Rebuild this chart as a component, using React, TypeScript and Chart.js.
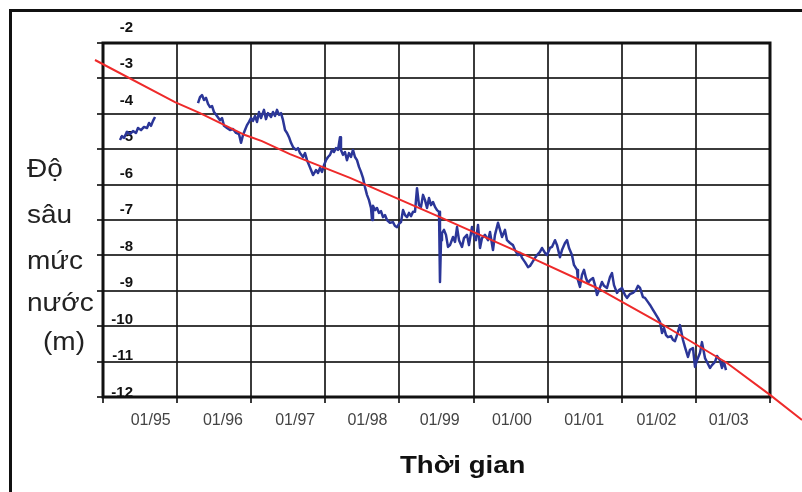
import React, { useEffect, useRef } from 'react';
import { Chart, registerables } from 'chart.js';

Chart.register(...registerables);

const FONT = "'Liberation Sans', Arial, Helvetica, sans-serif";

// ---- text ----
const xTickLabels = ['01/95', '01/96', '01/97', '01/98', '01/99', '01/00', '01/01', '01/02', '01/03'];
const yTickValues = [-2, -3, -4, -5, -6, -7, -8, -9, -10, -11, -12];
const yTickLabels = ['-2', '-3', '-4', '-5', '-6', '-7', '-8', '-9', '-10', '-11', '-12'];
const yTitleLines = ['Độ', 'sâu', 'mức', 'nước', '(m)'];
const xTitle = 'Thời gian';

// ---- observed water-table depth (decimal year, metres) ----
const blueDates = [
  1995.229, 1995.256, 1995.283, 1995.324, 1995.364, 1995.405, 1995.445, 1995.472, 1995.513, 1995.553,
  1995.594, 1995.621, 1995.648, 1995.675, 1995.702,
  1996.0,
  1996.282, 1996.309, 1996.336, 1996.363, 1996.390, 1996.417, 1996.444, 1996.471, 1996.498, 1996.538,
  1996.579, 1996.606, 1996.633, 1996.673, 1996.714, 1996.754, 1996.795, 1996.835, 1996.862, 1996.889,
  1996.916, 1996.943, 1996.970, 1996.997, 1997.024, 1997.051, 1997.078, 1997.105, 1997.132, 1997.172,
  1997.199, 1997.226, 1997.267, 1997.294, 1997.321, 1997.348, 1997.375, 1997.402, 1997.429, 1997.456,
  1997.483, 1997.510, 1997.537, 1997.564, 1997.604, 1997.631, 1997.658, 1997.699, 1997.726, 1997.753,
  1997.780, 1997.807, 1997.834, 1997.874, 1997.901, 1997.928, 1997.955, 1997.982, 1998.009, 1998.036,
  1998.063, 1998.090, 1998.117, 1998.144, 1998.171, 1998.198, 1998.211, 1998.238, 1998.265, 1998.292,
  1998.319, 1998.346, 1998.373, 1998.400, 1998.427, 1998.454, 1998.481, 1998.508, 1998.535, 1998.562,
  1998.589, 1998.616, 1998.630, 1998.643, 1998.670, 1998.697, 1998.724, 1998.751, 1998.778, 1998.805,
  1998.832, 1998.872, 1998.913, 1998.940, 1998.967, 1998.994, 1999.021, 1999.048, 1999.075, 1999.102,
  1999.129, 1999.156, 1999.183, 1999.210, 1999.237, 1999.264, 1999.291, 1999.318, 1999.345, 1999.372,
  1999.399, 1999.426, 1999.453, 1999.480, 1999.507, 1999.534, 1999.547, 1999.561, 1999.574, 1999.601,
  1999.628, 1999.655, 1999.682, 1999.723, 1999.750, 1999.777, 1999.804, 1999.844, 1999.871, 1999.911,
  1999.938, 1999.979, 2000.006, 2000.033, 2000.060, 2000.087, 2000.114, 2000.154, 2000.195, 2000.222,
  2000.262, 2000.289, 2000.330, 2000.357, 2000.384, 2000.424, 2000.451, 2000.492, 2000.532, 2000.559,
  2000.600, 2000.627, 2000.654, 2000.694, 2000.735, 2000.761, 2000.788, 2000.829, 2000.856, 2000.896,
  2000.923, 2000.964, 2000.991, 2001.031, 2001.058, 2001.099, 2001.126, 2001.166, 2001.193, 2001.234,
  2001.261, 2001.288, 2001.328, 2001.355, 2001.396, 2001.409, 2001.436, 2001.463, 2001.490, 2001.517,
  2001.544, 2001.571, 2001.612, 2001.639, 2001.666, 2001.693, 2001.733, 2001.760, 2001.800, 2001.841,
  2001.868, 2001.895, 2001.935, 2001.962, 2002.003, 2002.043, 2002.070, 2002.111, 2002.151, 2002.192,
  2002.219, 2002.246, 2002.286, 2002.313, 2002.354, 2002.381, 2002.421, 2002.448, 2002.489, 2002.516,
  2002.543, 2002.570, 2002.597, 2002.623, 2002.664, 2002.691, 2002.718, 2002.745, 2002.785, 2002.812,
  2002.826, 2002.853, 2002.893, 2002.920, 2002.961, 2002.988, 2003.015, 2003.055, 2003.082, 2003.123,
  2003.150, 2003.190, 2003.217, 2003.258, 2003.285, 2003.325, 2003.352, 2003.379, 2003.406,
];

const blueDepths: (number | null)[] = [
  -4.74, -4.63, -4.68, -4.51, -4.57, -4.49, -4.54, -4.40, -4.46, -4.37,
  -4.40, -4.26, -4.34, -4.20, -4.09,
  null,
  -3.70, -3.53, -3.47, -3.61, -3.55, -3.72, -3.81, -3.78, -3.95, -4.06,
  -4.18, -4.12, -4.34, -4.40, -4.46, -4.43, -4.54, -4.57, -4.82, -4.60,
  -4.46, -4.32, -4.23, -4.12, -4.20, -4.06, -4.23, -3.95, -4.12, -3.89,
  -4.15, -3.98, -4.09, -3.95, -4.06, -3.89, -4.03, -3.98, -4.18, -4.46,
  -4.54, -4.66, -4.82, -4.94, -5.02, -4.97, -5.11, -5.22, -5.11, -5.31,
  -5.45, -5.59, -5.73, -5.59, -5.67, -5.53, -5.64, -5.45, -5.31, -5.22,
  -5.16, -5.02, -5.08, -4.97, -5.02, -4.66, -5.02, -5.16, -5.08, -5.31,
  -5.11, -5.22, -5.02, -5.22, -5.31, -5.50, -5.64, -5.81, -6.07, -6.29,
  -6.44, -6.66, -7.00, -6.60, -6.72, -6.66, -6.80, -6.75, -6.92, -6.86,
  -7.00, -7.08, -7.06, -7.17, -7.20, -7.11, -7.06, -6.72, -6.86, -6.92,
  -6.80, -6.89, -6.77, -6.77, -6.10, -6.58, -6.63, -6.29, -6.44, -6.66,
  -6.38, -6.58, -6.49, -6.63, -6.72, -6.77, -8.75, -7.57, -7.37, -7.28,
  -7.42, -7.76, -7.71, -7.48, -7.62, -7.20, -7.57, -7.76, -7.51, -7.42,
  -7.71, -7.20, -7.45, -7.57, -7.14, -7.79, -7.51, -7.42, -7.57, -7.34,
  -7.85, -7.42, -7.08, -7.28, -7.48, -7.28, -7.57, -7.65, -7.71, -7.85,
  -7.99, -7.93, -8.07, -8.19, -8.33, -8.30, -8.21, -8.07, -7.99, -7.90,
  -7.79, -7.93, -7.99, -7.79, -7.76, -7.57, -7.71, -8.05, -7.85, -7.65,
  -7.57, -7.79, -7.99, -8.27, -8.41, -8.70, -8.89, -8.55, -8.41, -8.64,
  -8.78, -8.70, -8.64, -8.84, -9.12, -8.98, -8.75, -8.86, -8.92, -8.61,
  -8.50, -8.84, -9.06, -8.98, -8.92, -9.12, -9.20, -9.09, -9.06, -8.98,
  -8.86, -8.92, -9.18, -9.20, -9.32, -9.40, -9.54, -9.63, -9.77, -9.88,
  -10.19, -10.05, -10.25, -10.31, -10.28, -10.39, -10.42, -10.25, -9.97, -10.25,
  -10.39, -10.59, -10.87, -10.67, -10.62, -11.15, -10.96, -10.76, -10.45, -10.90,
  -11.01, -11.18, -11.10, -11.01, -10.84, -10.96, -11.18, -11.01, -11.24,
];

// ---- trend line (decimal year, metres) ----
const trendDates = [1994.892, 1995.971, 1996.309, 1996.916, 1997.145, 1997.523, 1998.333, 1999.547, 2000.761, 2001.666, 2002.516, 2003.420, 2004.000, 2004.432];
const trendDepths = [-2.48, -3.67, -3.98, -4.60, -4.77, -5.14, -5.81, -6.92, -8.05, -8.92, -9.91, -11.04, -11.94, -12.65];

const GRID = 'rgba(25,25,25,0.85)';

function stretchedText(ctx: CanvasRenderingContext2D, text: string, x: number, y: number, sx: number) {
  ctx.save();
  ctx.translate(x, y);
  ctx.scale(sx, 1);
  ctx.fillText(text, 0, 0);
  ctx.restore();
}

const decorPlugin = {
  id: 'decor',
  beforeDraw(chart: any) {
    const ctx: CanvasRenderingContext2D = chart.ctx;
    ctx.save();
    ctx.fillStyle = '#fff';
    ctx.fillRect(0, 0, chart.width, chart.height);
    ctx.fillStyle = '#111';
    ctx.fillRect(9, 9, chart.width, 3);
    ctx.fillRect(9, 9, 3, chart.height);
    ctx.restore();
  },
  beforeDatasetsDraw(chart: any) {
    const ctx: CanvasRenderingContext2D = chart.ctx;
    const a = chart.chartArea;
    const ys = chart.scales.y;
    ctx.save();
    ctx.strokeStyle = '#111';
    ctx.lineWidth = 3;
    ctx.strokeRect(a.left, a.top, a.right - a.left, a.bottom - a.top);
    ctx.fillStyle = '#111';
    ctx.font = `bold 15px ${FONT}`;
    ctx.textAlign = 'right';
    ctx.textBaseline = 'middle';
    yTickValues.forEach((v, k) => {
      const py = ys.getPixelForValue(v) - 15.5 + 1.1 * k;
      ctx.fillText(yTickLabels[k], a.left + 30, py);
    });
    ctx.restore();
  },
  afterDraw(chart: any) {
    const ctx: CanvasRenderingContext2D = chart.ctx;
    ctx.save();
    ctx.fillStyle = '#222';
    ctx.textAlign = 'left';
    ctx.textBaseline = 'alphabetic';
    ctx.font = `25px ${FONT}`;
    const baselines = [177, 223, 269, 311, 350];
    const lefts = [27, 27, 27, 27, 43];
    yTitleLines.forEach((t, i) => stretchedText(ctx, t, lefts[i], baselines[i], 1.12));
    ctx.fillStyle = '#111';
    ctx.font = `bold 24px ${FONT}`;
    stretchedText(ctx, xTitle, 400, 473, 1.15);
    ctx.restore();
  },
};

export default function App() {
  const ref = useRef<HTMLCanvasElement>(null);
  useEffect(() => {
    const canvas = ref.current;
    if (!canvas) return;
    const n = Math.min(blueDates.length, blueDepths.length);
    const blue = [] as { x: number; y: number | null }[];
    for (let i = 0; i < n; i++) blue.push({ x: blueDates[i], y: blueDepths[i] });
    // listed from right to left so every trend point (also those past the axis ends) is drawn
    const trend = trendDates.map((x, i) => ({ x, y: trendDepths[i] })).reverse();

    const chart = new Chart(canvas, {
      type: 'line',
      data: {
        datasets: [
          {
            label: 'Xu thế',
            data: trend as any,
            borderColor: '#ee2a2a',
            borderWidth: 2,
            pointRadius: 0,
            tension: 0,
            clip: false as any,
          },
          {
            label: 'Độ sâu mực nước',
            data: blue as any,
            borderColor: '#2b3698',
            borderWidth: 2.5,
            pointRadius: 0,
            tension: 0,
            spanGaps: false,
            borderJoinStyle: 'round',
          },
        ],
      },
      options: {
        responsive: false,
        animation: false,
        devicePixelRatio: 1,
        layout: { padding: { left: 97, top: 43, right: 32, bottom: 53.8 } },
        plugins: { legend: { display: false }, tooltip: { enabled: false } },
        scales: {
          x: {
            type: 'linear',
            position: 'bottom',
            min: 1995,
            max: 2004,
            weight: 0,
            ticks: { display: false, stepSize: 1 },
            grid: { color: GRID, lineWidth: 2, tickLength: 6, drawTicks: true },
            border: { display: false },
          },
          xl: {
            type: 'linear',
            axis: 'x',
            position: 'bottom',
            min: -0.66,
            max: 8.572,
            weight: 1,
            ticks: {
              stepSize: 1,
              includeBounds: false,
              autoSkip: false,
              maxRotation: 0,
              minRotation: 0,
              padding: 8,
              color: '#444',
              font: { family: FONT, size: 16 },
              callback: (v: any) => {
                const r = Math.round(Number(v));
                return Math.abs(r - Number(v)) < 1e-6 && xTickLabels[r] ? xTickLabels[r] : '';
              },
            },
            grid: { display: false, drawTicks: false },
            border: { display: false },
          } as any,
          y: {
            type: 'linear',
            min: -12,
            max: -2,
            ticks: { display: false, stepSize: 1 },
            grid: { color: GRID, lineWidth: 2, tickLength: 6, drawTicks: true },
            border: { display: false },
          },
        },
      },
      plugins: [decorPlugin],
    });
    return () => chart.destroy();
  }, []);

  return (
    <div style={{ position: 'fixed', left: 0, top: 0, width: 802, height: 492, overflow: 'hidden', background: '#fff' }}>
      <canvas ref={ref} width={802} height={492} style={{ display: 'block', width: 802, height: 492 }} />
    </div>
  );
}
